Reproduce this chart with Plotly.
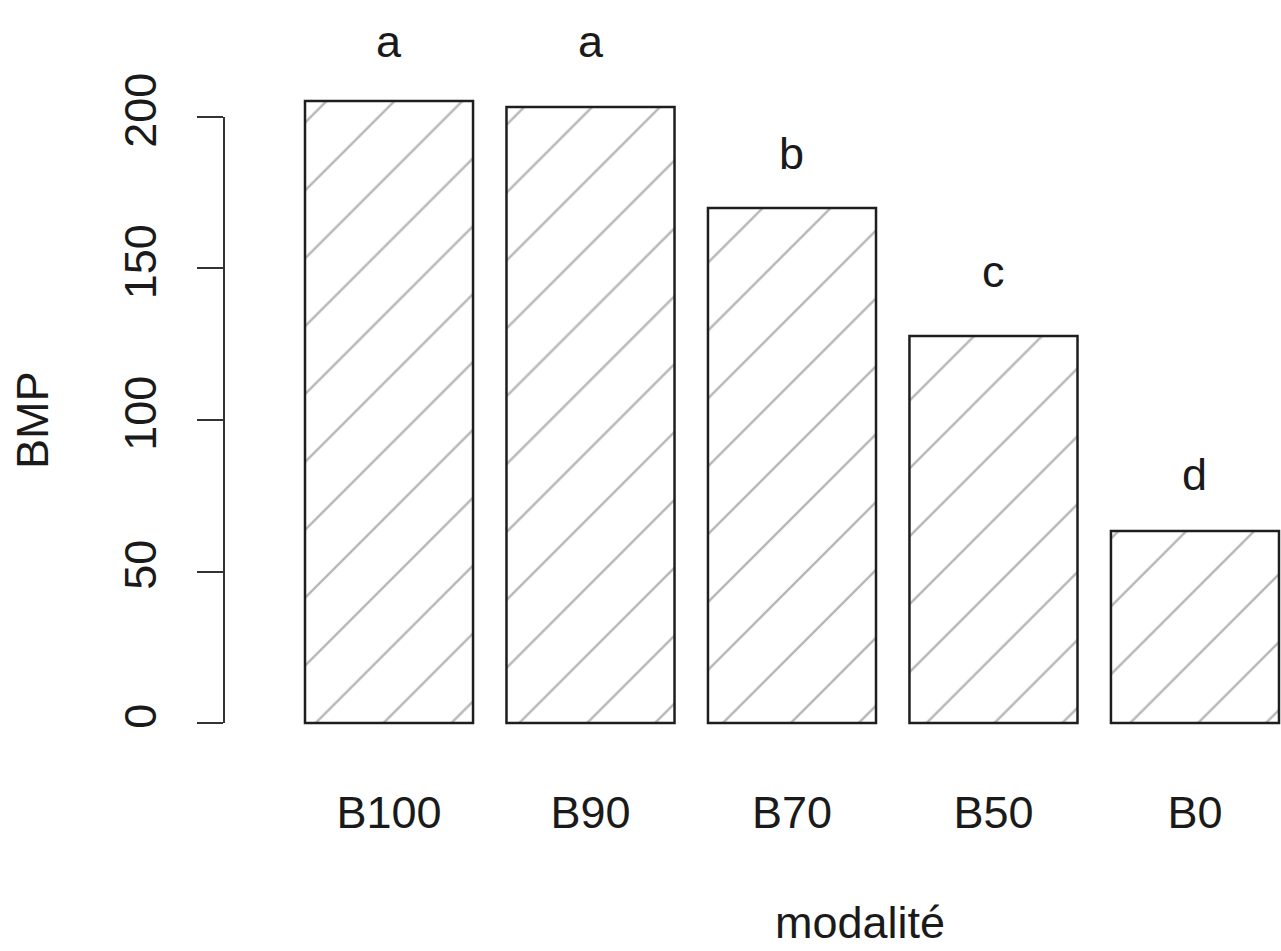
import plotly.graph_objects as go

categories = ["B100", "B90", "B70", "B50", "B0"]
bmp_values = [205.3, 203.3, 170.0, 127.7, 63.4]
group_letters = ["a", "a", "b", "c", "d"]
letter_y = [225, 225, 188, 149, 82]
y_ticks = [0, 50, 100, 150, 200]

FONT = "Liberation Sans, Arial, sans-serif"
TXT = "#1a1a1a"
FS = 45

fig = go.Figure()
fig.add_trace(go.Bar(
    x=categories, y=bmp_values,
    marker=dict(
        color="white",
        line=dict(color="#1e1e1e", width=2.5),
        pattern=dict(shape="/", fgcolor="#6e6e6e", bgcolor="white", size=48, solidity=0.05),
    ),
    showlegend=False,
))

for c, t, ly in zip(categories, group_letters, letter_y):
    fig.add_annotation(x=c, y=ly, text=t, showarrow=False, xref="x", yref="y",
                       font=dict(family=FONT, size=FS, color=TXT), yanchor="middle")

# y axis line spanning only the tick range (R style)
fig.add_shape(type="line", xref="paper", yref="y", x0=0, x1=0,
              y0=min(y_ticks), y1=max(y_ticks), line=dict(color="#333333", width=2))

fig.add_annotation(text="modalité", xref="paper", yref="paper", x=(860 - 224) / 1057, y=-(922 - 760) / 760,
                   showarrow=False, font=dict(family=FONT, size=FS, color=TXT), yanchor="middle")
fig.add_annotation(text="BMP", xref="paper", yref="paper", x=-(224 - 33) / 1057, y=(760 - 420) / 760,
                   textangle=-90, showarrow=False, font=dict(family=FONT, size=FS, color=TXT),
                   xanchor="center", yanchor="middle")

fig.update_layout(
    width=1281, height=951,
    margin=dict(l=224, r=0, t=0, b=191),
    paper_bgcolor="white", plot_bgcolor="white",
    bargap=0.166,
    font=dict(family=FONT, size=FS, color=TXT),
    xaxis=dict(range=[-0.819, 4.427], showline=False, showgrid=False, zeroline=False,
               ticks="", tickfont=dict(family=FONT, size=FS, color=TXT), ticklabelstandoff=22),
    yaxis=dict(range=[-12.2, 238.6], tickvals=y_ticks, ticks="outside", ticklen=26, tickwidth=2,
               tickcolor="#333333", showline=False, showgrid=False, zeroline=False, tickangle=-90,
               tickfont=dict(family=FONT, size=FS, color=TXT), ticklabelstandoff=23),
)

fig.write_html("out.html")
